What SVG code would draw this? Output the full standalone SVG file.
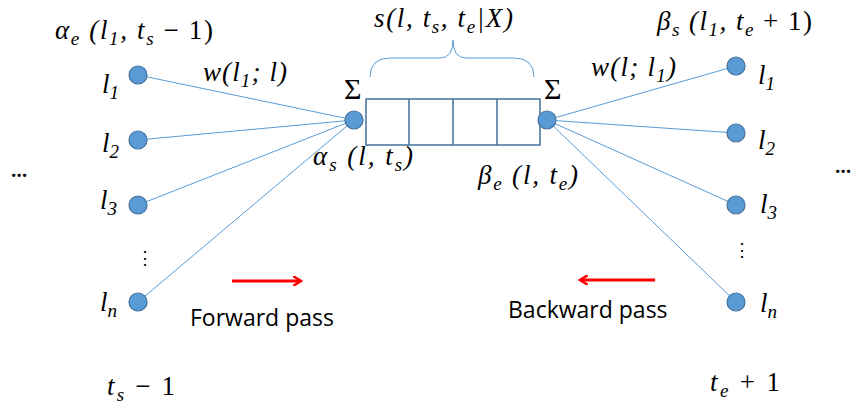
<svg xmlns="http://www.w3.org/2000/svg" width="865" height="414" viewBox="0 0 865 414">
<style>
.m{font-family:"Liberation Serif",serif;font-style:italic;font-size:27px;fill:#000}
.r{font-family:"Liberation Serif",serif;font-size:24px;fill:#000}
.n{font-style:normal}
.s{font-size:19px}
.t{font-family:"Open Sans","Liberation Sans",sans-serif;font-size:23px;fill:#000}
.nd{fill:#5B9BD5;stroke:#41719C;stroke-width:1.2}
.ln{stroke:#5B9BD5;stroke-width:1;fill:none}
.red{stroke:#FF0000;stroke-width:3;fill:none}
.bx{stroke:#41719C;stroke-width:1.5}
</style>
<defs>
<marker id="ah" markerWidth="10" markerHeight="10" refX="7" refY="5" orient="auto" markerUnits="userSpaceOnUse">
<path d="M0,0 L8,5 L0,10" fill="none" stroke="#FF0000" stroke-width="2.5"/>
</marker>
</defs>
<g id="connectors">
<line class="ln" x1="138" y1="75" x2="354" y2="120"/>
<line class="ln" x1="138" y1="140" x2="354" y2="120"/>
<line class="ln" x1="138" y1="205" x2="354" y2="120"/>
<line class="ln" x1="138" y1="302" x2="354" y2="120"/>
<line class="ln" x1="547" y1="120" x2="736" y2="66"/>
<line class="ln" x1="547" y1="120" x2="736" y2="133"/>
<line class="ln" x1="547" y1="120" x2="736" y2="205"/>
<line class="ln" x1="547" y1="120" x2="736" y2="302"/>
<line class="red" x1="232" y1="281" x2="300" y2="281" marker-end="url(#ah)"/>
<line class="red" x1="655" y1="280" x2="581" y2="280" marker-end="url(#ah)"/>
</g>
<g id="brace">
<path class="ln" d="M370,77 Q370,58 390,58 L440,58 Q453,58 453,40 Q453,58 466,58 L514,58 Q534,58 534,77"/>
<text class="m" x="374" y="27" textLength="139" lengthAdjust="spacing">s(l, t<tspan class="s" dy="6">s</tspan><tspan dy="-6">, t</tspan><tspan class="s" dy="6">e</tspan><tspan dy="-6">|X)</tspan></text>
</g>
<g id="segment">
<rect x="366" y="99" width="174" height="46" fill="#fff" class="bx"/>
<line x1="409" y1="99" x2="409" y2="145" class="bx"/>
<line x1="453" y1="99" x2="453" y2="145" class="bx"/>
<line x1="497" y1="99" x2="497" y2="145" class="bx"/>
</g>
<g id="sigma-left">
<circle class="nd" cx="354" cy="120" r="9"/>
<text class="r" x="344" y="99" style="font-size:30px">Σ</text>
<text class="m" x="313" y="165" textLength="100" lengthAdjust="spacing">α<tspan class="s" dy="6">s</tspan><tspan dy="-6"> (l, t</tspan><tspan class="s" dy="6">s</tspan><tspan dy="-6">)</tspan></text>
</g>
<g id="sigma-right">
<circle class="nd" cx="547" cy="120" r="9"/>
<text class="r" x="544" y="99" style="font-size:30px">Σ</text>
<text class="m" x="478" y="184" textLength="100" lengthAdjust="spacing">β<tspan class="s" dy="6">e</tspan><tspan dy="-6"> (l, t</tspan><tspan class="s" dy="6">e</tspan><tspan dy="-6">)</tspan></text>
</g>
<g id="left-l1">
<circle class="nd" cx="138" cy="75" r="9"/>
<text class="m" x="102" y="93">l<tspan class="s" dy="6">1</tspan></text>
</g>
<g id="left-l2">
<circle class="nd" cx="138" cy="140" r="9"/>
<text class="m" x="102" y="152">l<tspan class="s" dy="6">2</tspan></text>
</g>
<g id="left-l3">
<circle class="nd" cx="138" cy="205" r="9"/>
<text class="m" x="100" y="209">l<tspan class="s" dy="6">3</tspan></text>
</g>
<g id="left-ln">
<circle class="nd" cx="138" cy="302" r="9"/>
<text class="m" x="100" y="311">l<tspan class="s" dy="6">n</tspan></text>
</g>
<g id="right-l1">
<circle class="nd" cx="736" cy="66" r="9"/>
<text class="m" x="758" y="84">l<tspan class="s" dy="6">1</tspan></text>
</g>
<g id="right-l2">
<circle class="nd" cx="736" cy="133" r="9"/>
<text class="m" x="758" y="149">l<tspan class="s" dy="6">2</tspan></text>
</g>
<g id="right-l3">
<circle class="nd" cx="736" cy="205" r="9"/>
<text class="m" x="760" y="213">l<tspan class="s" dy="6">3</tspan></text>
</g>
<g id="right-ln">
<circle class="nd" cx="736" cy="302" r="9"/>
<text class="m" x="760" y="312">l<tspan class="s" dy="6">n</tspan></text>
</g>
<g id="labels">
<text class="m" x="55" y="39" textLength="158" lengthAdjust="spacing">α<tspan class="s" dy="6">e</tspan><tspan dy="-6"> (l</tspan><tspan class="s" dy="6">1</tspan><tspan dy="-6">, t</tspan><tspan class="s" dy="6">s</tspan><tspan dy="-6" class="n"> − 1)</tspan></text>
<text class="m" x="203" y="81" textLength="84" lengthAdjust="spacing">w(l<tspan class="s" dy="6">1</tspan><tspan dy="-6">; l)</tspan></text>
<text class="m" x="657" y="30" textLength="155" lengthAdjust="spacing">β<tspan class="s" dy="6">s</tspan><tspan dy="-6"> (l</tspan><tspan class="s" dy="6">1</tspan><tspan dy="-6">, t</tspan><tspan class="s" dy="6">e</tspan><tspan dy="-6" class="n"> + 1)</tspan></text>
<text class="m" x="591" y="76" textLength="85" lengthAdjust="spacing">w(l; l<tspan class="s" dy="6">1</tspan><tspan dy="-6">)</tspan></text>
<text class="r" x="136" y="264" style="font-size:18px">⋮</text>
<text class="r" x="733" y="256" style="font-size:18px">⋮</text>
<text class="t" x="11" y="177" style="font-weight:bold;font-size:19px">…</text>
<text class="t" x="835" y="173" style="font-weight:bold;font-size:19px">…</text>
<text class="t" x="190" y="326">Forward pass</text>
<text class="t" x="508" y="318">Backward pass</text>
<text class="m" x="107" y="395" textLength="68" lengthAdjust="spacing">t<tspan class="s" dy="6">s</tspan><tspan dy="-6" class="n"> − 1</tspan></text>
<text class="m" x="710" y="391" textLength="70" lengthAdjust="spacing">t<tspan class="s" dy="6">e</tspan><tspan dy="-6" class="n"> + 1</tspan></text>
</g>
</svg>
